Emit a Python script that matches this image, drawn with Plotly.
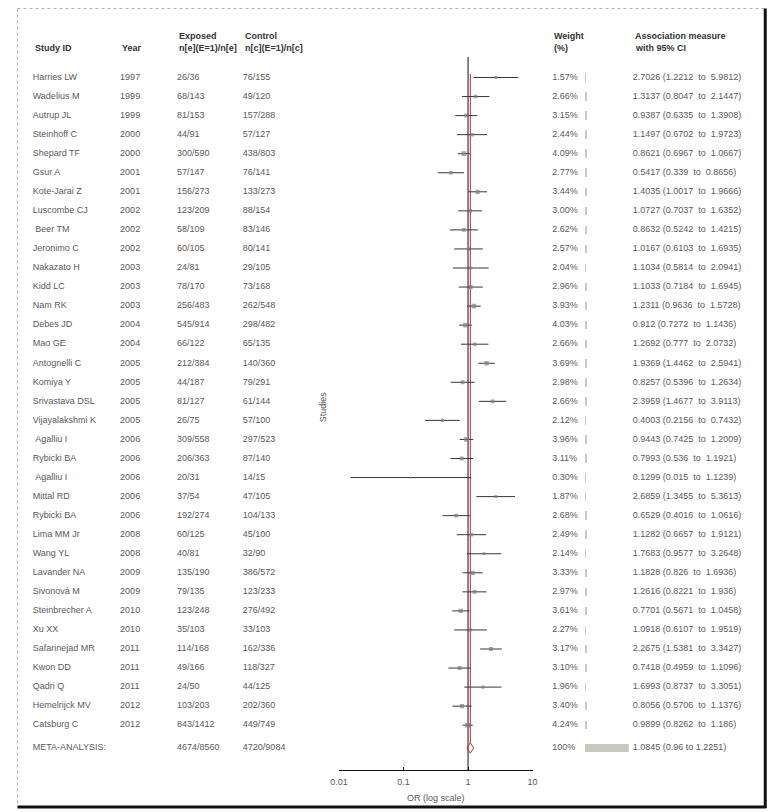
import plotly.graph_objects as go

# ---- data ----
studies = ["Harries LW", "Wadelius M", "Autrup JL", "Steinhoff C", "Shepard TF", "Gsur A",
           "Kote-Jarai Z", "Luscombe CJ", "\u00a0Beer TM", "Jeronimo C", "Nakazato H", "Kidd LC",
           "Nam RK", "Debes JD", "Mao GE", "Antognelli C", "Komiya Y", "Srivastava DSL",
           "Vijayalakshmi K", "\u00a0Agalliu I", "Rybicki BA", "\u00a0Agalliu I", "Mittal RD",
           "Rybicki BA", "Lima MM Jr", "Wang YL", "Lavander NA", "Sivonová M", "Steinbrecher A",
           "Xu XX", "Safarinejad MR", "Kwon DD", "Qadri Q", "Hemelrijck MV", "Catsburg C"]
years = [1997, 1999, 1999, 2000, 2000, 2001, 2001, 2002, 2002, 2002, 2003, 2003, 2003, 2004,
         2004, 2005, 2005, 2005, 2005, 2006, 2006, 2006, 2006, 2006, 2008, 2008, 2009, 2009,
         2010, 2010, 2011, 2011, 2011, 2012, 2012]
exposed = ["26/36", "68/143", "81/153", "44/91", "300/590", "57/147", "156/273", "123/209",
           "58/109", "60/105", "24/81", "78/170", "256/483", "545/914", "66/122", "212/384",
           "44/187", "81/127", "26/75", "309/558", "206/363", "20/31", "37/54", "192/274",
           "60/125", "40/81", "135/190", "79/135", "123/248", "35/103", "114/168", "49/166",
           "24/50", "103/203", "843/1412"]
control = ["76/155", "49/120", "157/288", "57/127", "438/803", "76/141", "133/273", "88/154",
           "83/146", "80/141", "29/105", "73/168", "262/548", "298/482", "65/135", "140/360",
           "79/291", "61/144", "57/100", "297/523", "87/140", "14/15", "47/105", "104/133",
           "45/100", "32/90", "386/572", "123/233", "276/492", "33/103", "162/336", "118/327",
           "44/125", "202/360", "449/749"]
weights = [1.57, 2.66, 3.15, 2.44, 4.09, 2.77, 3.44, 3.00, 2.62, 2.57, 2.04, 2.96, 3.93, 4.03,
           2.66, 3.69, 2.98, 2.66, 2.12, 3.96, 3.11, 0.30, 1.87, 2.68, 2.49, 2.14, 3.33, 2.97,
           3.61, 2.27, 3.17, 3.10, 1.96, 3.40, 4.24]
odds = [2.7026, 1.3137, 0.9387, 1.1497, 0.8621, 0.5417, 1.4035, 1.0727, 0.8632, 1.0167, 1.1034,
        1.1033, 1.2311, 0.912, 1.2692, 1.9369, 0.8257, 2.3959, 0.4003, 0.9443, 0.7993, 0.1299,
        2.6859, 0.6529, 1.1282, 1.7683, 1.1828, 1.2616, 0.7701, 1.0918, 2.2675, 0.7418, 1.6993,
        0.8056, 0.9899]
ci_low = [1.2212, 0.8047, 0.6335, 0.6702, 0.6967, 0.339, 1.0017, 0.7037, 0.5242, 0.6103, 0.5814,
          0.7184, 0.9636, 0.7272, 0.777, 1.4462, 0.5396, 1.4677, 0.2156, 0.7425, 0.536, 0.015,
          1.3455, 0.4016, 0.6657, 0.9577, 0.826, 0.8221, 0.5671, 0.6107, 1.5381, 0.4959, 0.8737,
          0.5706, 0.8262]
ci_high = [5.9812, 2.1447, 1.3908, 1.9723, 1.0667, 0.8656, 1.9666, 1.6352, 1.4215, 1.6935,
           2.0941, 1.6945, 1.5728, 1.1436, 2.0732, 2.5941, 1.2634, 3.9113, 0.7432, 1.2009,
           1.1921, 1.1239, 5.3613, 1.0616, 1.9121, 3.2648, 1.6936, 1.936, 1.0458, 1.9519,
           3.3427, 1.1096, 3.3051, 1.1376, 1.186]
meta_exposed = "4674/8560"
meta_control = "4720/9084"
meta_weight = 100
meta_or, meta_low, meta_high = 1.0845, 0.96, 1.2251

# ---- layout constants (pixels, as measured on the page) ----
W, H = 776, 812
OFF = 8                      # page body margin the figure sits behind
ROW0, STEP = 77.5, 19.05     # pixel y of first study row, row spacing
AXIS_Y = 770                 # pixel y of the OR axis line
META_GAP = 1.2               # rows between last study and meta-analysis
FONT = "Liberation Sans, Arial, sans-serif"
TXT = "#5a5a5a"
HDR = "#333333"

n = len(studies)
rows = list(range(n))
meta_row = n - 1 + META_GAP


def prow(py):
    return (py - ROW0) / STEP


def paper(px, py):
    return (px - OFF) / W, 1 - (py - OFF) / H


fig = go.Figure()

# text columns
cols = [(24, studies + ["META-ANALYSIS:"]),
        (113, [str(y) for y in years] + [""]),
        (171, exposed + [meta_exposed]),
        (238, control + [meta_control]),
        (553, [f"{w:.2f}%" for w in weights] + [f"{meta_weight}%"]),
        (635, [f"{o} ({lo}\u00a0 to\u00a0 {hi})" for o, lo, hi in zip(odds, ci_low, ci_high)]
         + [f"{meta_or} ({meta_low} to {meta_high})"])]
for cx, labels in cols:
    fig.add_trace(go.Scatter(x=[cx] * len(labels), y=rows + [meta_row], mode="text",
                             text=labels, textposition="middle right",
                             textfont=dict(family=FONT, size=9, color=TXT),
                             xaxis="x", yaxis="y", hoverinfo="skip", showlegend=False))

# weight bars
fig.add_trace(go.Bar(x=weights + [meta_weight], y=rows + [meta_row], orientation="h",
                     width=0.45, marker=dict(color=["#c9c9c9"] * n + ["#c6c9bd"], line_width=0),
                     xaxis="x3", yaxis="y", hoverinfo="skip", showlegend=False))

# reference line at OR = 1
fig.add_trace(go.Scatter(x=[1, 1], y=[prow(57), prow(AXIS_Y)], mode="lines",
                         line=dict(color="#111111", width=1), xaxis="x2", yaxis="y",
                         hoverinfo="skip", showlegend=False))

# pooled estimate line
dh = 0.27
fig.add_trace(go.Scatter(x=[meta_or, meta_or], y=[prow(74), meta_row - dh], mode="lines",
                         line=dict(color="#c0262c", width=1), xaxis="x2", yaxis="y",
                         hoverinfo="skip", showlegend=False))

# confidence intervals
cx_, cy_ = [], []
for i in rows:
    cx_ += [ci_low[i], ci_high[i], None]
    cy_ += [i, i, None]
fig.add_trace(go.Scatter(x=cx_, y=cy_, mode="lines", line=dict(color="#363636", width=1),
                         xaxis="x2", yaxis="y", hoverinfo="skip", showlegend=False))

# study estimates
fig.add_trace(go.Scatter(x=odds, y=rows, mode="markers",
                         marker=dict(symbol="square", color="#808080",
                                     size=[1.5 + 0.8 * w for w in weights], line_width=0),
                         xaxis="x2", yaxis="y", hoverinfo="skip", showlegend=False))

# pooled diamond
fig.add_trace(go.Scatter(x=[meta_low, meta_or, meta_high, meta_or, meta_low],
                         y=[meta_row, meta_row - dh, meta_row, meta_row + dh, meta_row],
                         mode="lines", line=dict(color="#d0262c", width=1),
                         xaxis="x2", yaxis="y", hoverinfo="skip", showlegend=False))

ann = []
headers = [(24, 48, "Study ID"), (113, 48, "Year"),
           (171, 36, "Exposed"), (171, 48, "n[e](E=1)/n[e]"),
           (238, 36, "Control"), (238, 48, "n[c](E=1)/n[c]"),
           (553, 36, "Weight"), (553, 48, "(%)"),
           (635, 36, "Association measure"), (635, 48, "with 95% CI")]
for hx, hy, t in headers:
    px_, py_ = paper(hx, hy)
    ann.append(dict(x=px_, y=py_, xref="paper", yref="paper", text=f"<b>{t}</b>",
                    showarrow=False, xanchor="left", yanchor="middle",
                    font=dict(family=FONT, size=9, color=HDR)))
sx, sy = paper(320, 407)
ann.append(dict(x=sx, y=sy, xref="paper", yref="paper", text="Studies", textangle=-90,
                showarrow=False, font=dict(family=FONT, size=9, color=TXT)))

# frame: dotted top/left, heavy right/bottom
shapes = []
for (x0, y0, x1, y1, c, w, d) in [(8.5, 8.5, 770, 8.5, "#b0b0b0", 1, "dot"),
                                  (8.5, 8.5, 8.5, 807, "#b0b0b0", 1, "dot"),
                                  (770, 8.5, 770, 808, "#111111", 3, "solid"),
                                  (8.5, 807, 771, 807, "#111111", 3, "solid")]:
    a0, b0 = paper(x0, y0)
    a1, b1 = paper(x1, y1)
    shapes.append(dict(type="line", xref="paper", yref="paper", x0=a0, y0=b0, x1=a1, y1=b1,
                       line=dict(color=c, width=w, dash=d)))

fig.update_layout(
    width=W, height=H, margin=dict(l=0, r=0, t=0, b=0),
    paper_bgcolor="white", plot_bgcolor="rgba(0,0,0,0)",
    font=dict(family=FONT, size=9, color=TXT),
    xaxis=dict(domain=[0, 1], range=[OFF, W + OFF], visible=False, fixedrange=True),
    xaxis2=dict(domain=[(336 - OFF) / W, (533 - OFF) / W], type="log", range=[-2, 1],
                anchor="y", tickvals=[0.01, 0.1, 1, 10], ticktext=["0.01", "0.1", "1", "10"],
                ticks="inside", ticklen=3, tickcolor="#111111", showline=True,
                linecolor="#111111", linewidth=1, showgrid=False, zeroline=False,
                ticklabelstandoff=3,
                tickfont=dict(family=FONT, size=9, color=TXT),
                title=dict(text="OR (log scale)", standoff=8,
                           font=dict(family=FONT, size=9, color=TXT))),
    xaxis3=dict(domain=[(586 - OFF) / W, (631 - OFF) / W], range=[0, 100], anchor="y",
                visible=False),
    yaxis=dict(domain=[1 - (AXIS_Y - OFF) / H, 1], range=[prow(AXIS_Y), prow(OFF)],
               visible=False),
    annotations=ann, shapes=shapes, bargap=0,
)

fig.write_html("out.html")
